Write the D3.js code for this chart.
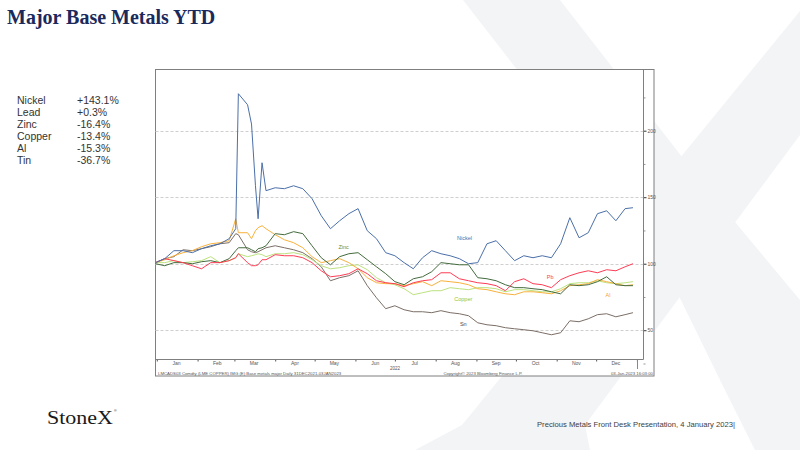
<!DOCTYPE html>
<html>
<head>
<meta charset="utf-8">
<script src="https://cdn.jsdelivr.net/npm/d3@7"></script>
<style>
body { margin: 0; background: #fff; }
svg { display: block; font-family: "Liberation Sans", Arial, sans-serif; }
</style>
</head>
<body>
<svg id="slide" width="800" height="450"></svg>
<script>
// weekly closes (plus a few extra days round the nickel squeeze), rebased to 100
var dateStrings = ["2021-12-31","2022-01-07","2022-01-14","2022-01-21","2022-01-28","2022-02-04","2022-02-11","2022-02-18","2022-02-25",
	"2022-03-02","2022-03-04","2022-03-11","2022-03-14","2022-03-17","2022-03-19","2022-03-22","2022-03-25",
	"2022-04-01","2022-04-08","2022-04-15","2022-04-22","2022-04-29","2022-05-06","2022-05-13","2022-05-20","2022-05-27",
	"2022-06-03","2022-06-10","2022-06-17","2022-06-24","2022-07-01","2022-07-08","2022-07-15","2022-07-22","2022-07-29",
	"2022-08-05","2022-08-12","2022-08-19","2022-08-26","2022-09-02","2022-09-09","2022-09-16","2022-09-23","2022-09-30",
	"2022-10-07","2022-10-14","2022-10-21","2022-10-28","2022-11-04","2022-11-11","2022-11-18","2022-11-25",
	"2022-12-02","2022-12-09","2022-12-16","2022-12-23","2022-12-29"];

var nickel = [100.8,103.8,109.8,109.8,108.3,111.3,113.5,115.0,118.8,126.3,227.8,219.5,205.0,158.6,133.8,175.9,154.9,157.1,156.4,158.6,
	156.4,148.9,136.1,126.3,132.3,137.6,141.4,124.8,118.8,108.3,106.0,100.8,96.2,104.5,109.8,107.5,106.0,103.8,100.0,100.8,
	115.0,117.3,109.8,102.3,106.0,104.5,106.0,104.5,115.0,134.6,119.5,123.3,137.6,139.8,132.3,141.4,142.1];
var lead = [100.8,103.8,102.3,100.8,98.5,96.2,100.8,100.8,102.3,104.5,107.5,100.8,98.5,98.5,99.2,103.0,103.0,106.8,106.0,106.0,
	104.5,100.8,94.7,90.2,91.0,92.5,96.2,92.5,87.2,85.7,85.0,82.7,85.7,87.2,88.0,93.2,93.2,88.7,87.2,85.7,
	85.0,83.5,79.7,86.5,88.7,85.0,84.2,82.0,88.0,91.0,93.2,94.7,93.2,95.5,94.7,97.7,100.0];
var zinc = [100.0,98.5,100.8,100.8,100.0,101.5,102.3,100.8,103.8,109.8,112.0,112.0,110.5,109.0,111.3,112.0,113.5,122.6,121.8,124.1,
	122.6,113.5,104.5,99.2,105.3,107.5,108.3,103.0,97.7,92.5,86.5,84.2,88.7,90.2,94.0,100.8,100.0,99.2,99.2,89.5,
	88.7,87.2,84.2,82.0,82.0,81.2,80.5,78.9,77.4,84.2,83.5,84.2,86.5,90.2,84.2,83.5,83.5];
var copper = [100.8,100.8,102.3,100.8,101.5,102.3,105.3,100.8,102.3,104.5,107.5,105.3,106.0,106.8,107.5,106.8,105.3,107.5,107.5,108.3,
	106.8,103.0,98.5,96.2,97.0,98.5,99.2,95.5,89.5,85.7,84.2,81.2,76.7,78.2,79.7,79.7,82.0,81.2,80.5,82.0,
	82.0,81.2,78.9,80.5,80.5,79.7,78.9,78.9,81.2,85.0,85.7,85.7,87.2,85.7,85.0,85.7,86.5];
var aluminium = [100.8,103.0,106.0,108.3,109.8,112.8,115.0,115.8,117.3,133.8,123.3,123.3,118.8,124.8,127.1,128.6,126.3,121.8,118.0,115.8,
	112.0,105.3,100.8,102.3,103.8,100.8,96.2,89.5,85.7,85.0,85.0,83.5,85.0,86.5,83.5,87.2,86.5,85.7,84.2,81.2,
	80.5,78.9,77.4,76.7,78.9,78.9,78.2,77.4,79.7,83.5,84.2,85.0,88.0,86.5,85.0,83.5,84.2];
var tin = [100.8,103.8,105.3,110.5,109.8,111.3,112.8,115.0,115.8,122.6,121.8,110.5,109.0,108.3,109.0,110.5,112.0,113.5,112.0,110.5,
	108.3,103.8,97.7,87.2,89.5,91.0,94.7,83.5,74.4,66.2,68.4,65.4,63.9,63.9,63.2,64.7,63.2,62.4,60.9,55.6,
	54.1,53.4,51.9,51.1,50.4,49.6,48.1,46.6,48.1,57.1,56.4,58.6,61.7,62.4,60.1,61.7,63.2];

var ytdNames = ["Nickel", "Lead", "Zinc", "Copper", "Al", "Tin"];
var ytdChanges = ["+143.1%", "+0.3%", "-16.4%", "-13.4%", "-15.3%", "-36.7%"];
var monthLabels = ["Jan","Feb","Mar","Apr","May","Jun","Jul","Aug","Sep","Oct","Nov","Dec"];
var yMajorTicks = [50, 100, 150, 200];
var yMinorTicks = [25, 75, 125, 175, 225];

var parseDate = d3.timeParse("%Y-%m-%d");
var dates = dateStrings.map(parseDate);

// series: values + colour + where the in-chart name sits (date, value)
var series = [
	{name: "Sn", values: tin, color: "#7b6e66", labelColor: "#4a4a4a", at: ["2022-08-22", 53.4]},
	{name: "Copper", values: copper, color: "#bce27e", labelColor: "#8cc63f", at: ["2022-08-22", 72.2]},
	{name: "Al", values: aluminium, color: "#f9b13c", labelColor: "#f5a623", at: ["2022-12-10", 75.2]},
	{name: "Zinc", values: zinc, color: "#436b3d", labelColor: "#6b8a3a", at: ["2022-05-23", 111.3]},
	{name: "Pb", values: lead, color: "#ff3c55", labelColor: "#ff3c55", at: ["2022-10-27", 88.7]},
	{name: "Nickel", values: nickel, color: "#4b6fa8", labelColor: "#4b6fa8", at: ["2022-08-23", 118.0]}
];

var svg = d3.select("#slide");

// big pale X watermark behind everything
var wm = svg.append("g").attr("fill", "#f3f4f6");
wm.append("path").attr("d", "M463,0 L560,0 L700,180 L800,300 L800,450 L755,450 L720,380 L655,247 Z");
wm.append("path").attr("d", "M809,0 L900,0 L585,425 L590,450 L415,450 L462,425 Z");

// title
svg.append("text")
	.attr("x", 7).attr("y", 24)
	.attr("font-family", "'Liberation Serif', 'Times New Roman', serif")
	.attr("font-weight", "bold")
	.attr("font-size", "20px")
	.attr("fill", "#1b2a5c")
	.text("Major Base Metals YTD");

// ytd table on the left
var ytd = svg.append("g").attr("font-size", "10.5px").attr("fill", "#333");
ytdNames.forEach(function(n, i) {
	ytd.append("text").attr("x", 17).attr("y", 104 + i * 12).text(n);
	ytd.append("text").attr("x", 77).attr("y", 104 + i * 12).text(ytdChanges[i]);
});

// chart box
var box = {left: 155.5, top: 69.5, right: 654, bottom: 376};
var plot = {left: 155.5, top: 69.5, right: 643.5, bottom: 359.5};

svg.append("rect")
	.attr("x", box.left).attr("y", box.top)
	.attr("width", box.right - box.left).attr("height", box.bottom - box.top)
	.attr("fill", "#fff").attr("stroke", "#7f7f7f").attr("stroke-width", 1);

var xScale = d3.scaleTime()
	.domain([parseDate("2021-12-31"), parseDate("2023-01-06")])
	.range([plot.left, plot.right]);

var yScale = d3.scaleLinear()
	.domain([28, 246])
	.range([plot.bottom, plot.top]);

// dashed grid
svg.append("g").selectAll("line")
	.data(yMajorTicks)
	.enter().append("line")
	.attr("x1", plot.left).attr("x2", plot.right)
	.attr("y1", function(d) { return Math.round(yScale(d)) + 0.5; })
	.attr("y2", function(d) { return Math.round(yScale(d)) + 0.5; })
	.attr("stroke", "#cfcfcf").attr("stroke-dasharray", "3,2");

// right hand axis
var yax = svg.append("g")
	.attr("transform", "translate(" + plot.right + ",0)")
	.call(d3.axisRight(yScale).tickValues(yMajorTicks).tickSize(3).tickPadding(1).tickFormat(d3.format("d")));
yax.select(".domain").remove();
yax.selectAll("text").attr("font-size", "5px").attr("fill", "#555");
yax.selectAll("line").attr("stroke", "#333");

var yminor = svg.append("g")
	.attr("transform", "translate(" + plot.right + ",0)")
	.call(d3.axisRight(yScale).tickValues(yMinorTicks).tickSize(2).tickFormat(""));
yminor.select(".domain").remove();
yminor.selectAll("line").attr("stroke", "#999");

// bottom axis: ticks at month boundaries, names mid month
var monthEdges = d3.timeMonth.range(new Date(2022, 0, 1), new Date(2023, 0, 2));
var xax = svg.append("g")
	.attr("transform", "translate(0," + plot.bottom + ")")
	.call(d3.axisBottom(xScale).tickValues(monthEdges).tickSize(2).tickFormat(""));
xax.select(".domain").remove();
xax.selectAll("line").attr("stroke", "#555");

svg.append("g").selectAll("text")
	.data(monthLabels)
	.enter().append("text")
	.attr("x", function(d, i) { return xScale(new Date(2022, i, 16)); })
	.attr("y", 364.5)
	.attr("text-anchor", "middle")
	.attr("font-size", "5px")
	.attr("fill", "#555")
	.text(function(d) { return d; });

svg.append("text")
	.attr("x", xScale(new Date(2022, 6, 1)))
	.attr("y", 369.5)
	.attr("text-anchor", "middle")
	.attr("font-size", "4.5px")
	.attr("fill", "#555")
	.text("2022");

// year boundary tick
svg.append("line")
	.attr("x1", Math.round(xScale(new Date(2023, 0, 1))) + 0.5)
	.attr("x2", Math.round(xScale(new Date(2023, 0, 1))) + 0.5)
	.attr("y1", plot.bottom).attr("y2", 369)
	.attr("stroke", "#888");

// plot frame (right + bottom)
svg.append("path")
	.attr("d", "M" + plot.right + "," + plot.top + " V" + plot.bottom + " H" + plot.left)
	.attr("fill", "none").attr("stroke", "#7f7f7f");

// bloomberg footer strip
var foot = svg.append("g").attr("font-size", "4.3px").attr("fill", "#555");
foot.append("text").attr("x", 158).attr("y", 374.5)
	.text("LMCADS03 Comdty (LME COPPER)      IMG (E) Base metals major  Daily 31DEC2021-03JAN2023");
foot.append("text").attr("x", 483).attr("y", 374.5).attr("text-anchor", "middle")
	.text("Copyright\u00a9 2023 Bloomberg Finance L.P.");
foot.append("text").attr("x", 653).attr("y", 374.5).attr("text-anchor", "end")
	.text("03-Jan-2023 16:03:00");

// the lines
var line = d3.line()
	.x(function(d) { return xScale(d.date); })
	.y(function(d) { return yScale(d.value); });

var lines = svg.append("g").attr("fill", "none").attr("stroke-width", 1).attr("stroke-linejoin", "round");
series.forEach(function(s) {
	var pts = s.values.map(function(v, i) { return {date: dates[i], value: v}; });
	lines.append("path")
		.datum(pts)
		.attr("stroke", s.color)
		.attr("d", line);
});

svg.append("g").selectAll("text")
	.data(series)
	.enter().append("text")
	.attr("x", function(d) { return xScale(parseDate(d.at[0])); })
	.attr("y", function(d) { return yScale(d.at[1]); })
	.attr("text-anchor", "middle")
	.attr("font-size", "5.5px")
	.attr("fill", function(d) { return d.labelColor; })
	.text(function(d) { return d.name; });

// slide footer
svg.append("text")
	.attr("x", 47).attr("y", 424)
	.attr("font-family", "'Liberation Serif', 'Times New Roman', serif")
	.attr("font-size", "19px")
	.attr("textLength", 66)
	.attr("lengthAdjust", "spacingAndGlyphs")
	.attr("fill", "#1a1a1a")
	.text("StoneX");
svg.append("text")
	.attr("x", 114).attr("y", 412)
	.attr("font-size", "3.5px")
	.attr("fill", "#1a1a1a")
	.text("\u00ae");

svg.append("text")
	.attr("x", 537).attr("y", 427)
	.attr("font-family", "'Liberation Sans Narrow', 'Liberation Sans', Arial, sans-serif")
	.attr("font-size", "7.3px")
	.attr("textLength", 198)
	.attr("lengthAdjust", "spacingAndGlyphs")
	.attr("fill", "#404040")
	.text("Precious Metals Front Desk Presentation, 4 January 2023|");
</script>
</body>
</html>
